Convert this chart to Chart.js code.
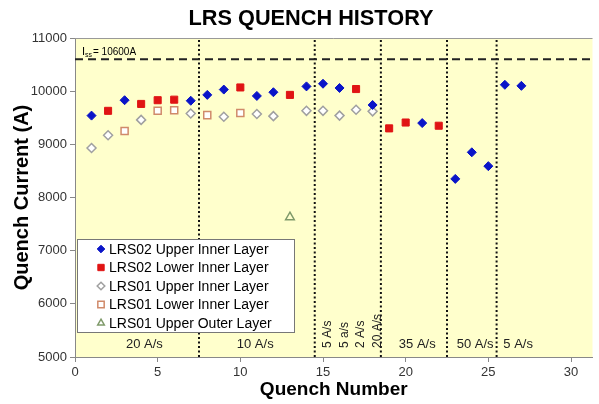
<!DOCTYPE html>
<html>
<head>
    <meta charset="utf-8">
    <title>LRS Quench History</title>
    <script src="https://cdn.jsdelivr.net/npm/chart.js"></script>
    <style>
        body { margin: 0; background: #fff; }
    </style>
</head>
<body>
    <canvas id="myChart" width="599" height="404"></canvas>

    <script>
        // Quench number / quench current (A) for each coil layer
        var lrs02UpperQ = [1, 3, 7, 8, 9, 11, 12, 14, 15, 16, 18, 21, 23, 24, 25, 26, 27];
        var lrs02UpperI = [9540, 9830, 9820, 9930, 10030, 9910, 9980, 10090, 10140, 10060, 9740, 9400, 8350, 8850, 8590, 10120, 10100];

        var lrs02LowerQ = [2, 4, 5, 6, 10, 13, 17, 19, 20, 22];
        var lrs02LowerI = [9630, 9760, 9830, 9840, 10070, 9930, 10040, 9300, 9410, 9350];

        var lrs01UpperQ = [1, 2, 4, 7, 9, 11, 12, 14, 15, 16, 17, 18];
        var lrs01UpperI = [8930, 9170, 9460, 9580, 9520, 9570, 9530, 9630, 9630, 9540, 9650, 9620];

        var lrs01LowerQ = [3, 5, 6, 8, 10];
        var lrs01LowerI = [9250, 9630, 9640, 9550, 9590];

        var lrs01OuterQ = [13];
        var lrs01OuterI = [7630];

        // short sample current and ramp rate segments
        var issCurrent = 10600;
        var rampBoundaries = [7.5, 14.5, 18.5, 22.5, 25.5];
        var rampLabels = ['20 A/s', '10 A/s', '35 A/s', '50 A/s', '5 A/s'];
        var rampLabelQ = [4.2, 10.9, 20.7, 24.2, 26.8];
        var rampVertLabels = ['5 A/s', '5 a/s', '2 A/s', '20 A/s'];
        var rampVertQ = [15.3, 16.3, 17.3, 18.3];

        var xMin = 0, xMax = 31.3, yMin = 5000, yMax = 11000;

        var FONT = 'Liberation Sans, Arial, Helvetica, sans-serif';

        function toPoints(qs, is) {
            return qs.map(function (q, i) { return { x: q, y: is[i] }; });
        }

        var datasets = [
            {
                label: 'LRS02 Upper Inner Layer',
                data: toPoints(lrs02UpperQ, lrs02UpperI),
                pointStyle: 'rectRot', pointRadius: 4.5,
                backgroundColor: '#0a14c8', borderColor: '#0a14c8', borderWidth: 1
            },
            {
                label: 'LRS02 Lower Inner Layer',
                data: toPoints(lrs02LowerQ, lrs02LowerI),
                pointStyle: 'rect', pointRadius: 5,
                backgroundColor: '#e01414', borderColor: '#e01414', borderWidth: 1
            },
            {
                label: 'LRS01 Upper Inner Layer',
                data: toPoints(lrs01UpperQ, lrs01UpperI),
                pointStyle: 'rectRot', pointRadius: 4.5,
                backgroundColor: '#ffffff', borderColor: '#a0a0a0', borderWidth: 1.5
            },
            {
                label: 'LRS01 Lower Inner Layer',
                data: toPoints(lrs01LowerQ, lrs01LowerI),
                pointStyle: 'rect', pointRadius: 5,
                backgroundColor: '#ffffff', borderColor: '#d08a6a', borderWidth: 1.5
            },
            {
                label: 'LRS01 Upper Outer Layer',
                data: toPoints(lrs01OuterQ, lrs01OuterI),
                pointStyle: 'triangle', pointRadius: 5,
                backgroundColor: 'rgba(0,0,0,0)', borderColor: '#7f9a6a', borderWidth: 1.5
            },
            {
                type: 'line',
                label: 'Iss',
                data: [{ x: xMin, y: issCurrent }, { x: xMax, y: issCurrent }],
                borderColor: '#222', borderWidth: 2, borderDash: [8, 5],
                pointRadius: 0, showLine: true, fill: false
            }
        ];

        rampBoundaries.forEach(function (b) {
            datasets.push({
                type: 'line',
                label: 'boundary',
                data: [{ x: b, y: yMin }, { x: b, y: yMax }],
                borderColor: '#111', borderWidth: 2, borderDash: [2, 2.5],
                pointRadius: 0, showLine: true, fill: false
            });
        });

        function drawMarker(ctx, style, x, y, r, fill, stroke, lw) {
            ctx.beginPath();
            if (style === 'rectRot') {
                ctx.moveTo(x, y - r); ctx.lineTo(x + r, y); ctx.lineTo(x, y + r); ctx.lineTo(x - r, y);
            } else if (style === 'rect') {
                var s = r * Math.SQRT1_2;
                ctx.rect(x - s, y - s, 2 * s, 2 * s);
            } else {
                ctx.moveTo(x, y - r);
                ctx.lineTo(x + r * 0.866, y + r * 0.5);
                ctx.lineTo(x - r * 0.866, y + r * 0.5);
            }
            ctx.closePath();
            ctx.fillStyle = fill; ctx.fill();
            ctx.lineWidth = lw; ctx.strokeStyle = stroke; ctx.stroke();
        }

        var decorPlugin = {
            id: 'decor',
            beforeDraw: function (chart) {
                var a = chart.chartArea, ctx = chart.ctx;
                ctx.save();
                ctx.fillStyle = '#ffffcc';
                ctx.fillRect(a.left, a.top, a.right - a.left, a.bottom - a.top);
                ctx.restore();
            },
            afterDraw: function (chart) {
                var a = chart.chartArea, ctx = chart.ctx;
                var xs = chart.scales.x, ys = chart.scales.y;
                ctx.save();

                // top border of plot area
                ctx.strokeStyle = '#999'; ctx.lineWidth = 1;
                ctx.beginPath(); ctx.moveTo(a.left, a.top + 0.5); ctx.lineTo(a.right, a.top + 0.5); ctx.stroke();

                // title
                ctx.fillStyle = '#000';
                ctx.textAlign = 'center'; ctx.textBaseline = 'middle';
                ctx.font = 'bold 22px ' + FONT;
                ctx.fillText('LRS QUENCH HISTORY', 311, 19, 245);

                // Iss label
                var lx = xs.getPixelForValue(xMin) + 7, ly = ys.getPixelForValue(issCurrent) - 4;
                ctx.textAlign = 'left'; ctx.textBaseline = 'alphabetic';
                ctx.font = '11px ' + FONT;
                ctx.fillText('I', lx, ly);
                ctx.font = '7px ' + FONT;
                ctx.fillText('ss', lx + 3, ly + 2);
                ctx.font = '10px ' + FONT;
                ctx.fillText('= 10600A', lx + 11, ly);

                // ramp rate labels
                ctx.fillStyle = '#222';
                ctx.font = '13px ' + FONT;
                ctx.textAlign = 'center'; ctx.textBaseline = 'middle';
                var labY = ys.getPixelForValue(5245);
                rampLabels.forEach(function (t, i) {
                    ctx.fillText(t, xs.getPixelForValue(rampLabelQ[i]), labY);
                });
                ctx.font = '12px ' + FONT;
                ctx.textAlign = 'left';
                var vy = ys.getPixelForValue(5170);
                rampVertLabels.forEach(function (t, i) {
                    ctx.save();
                    ctx.translate(xs.getPixelForValue(rampVertQ[i]), vy);
                    ctx.rotate(-Math.PI / 2);
                    ctx.fillText(t, 0, 0);
                    ctx.restore();
                });

                // legend box inside plot
                var bx = 77, by = 239, bw = 217, bh = 93;
                ctx.fillStyle = '#fff';
                ctx.fillRect(bx, by, bw, bh);
                ctx.strokeStyle = '#777'; ctx.lineWidth = 1;
                ctx.strokeRect(bx + 0.5, by + 0.5, bw, bh);
                ctx.font = '14px ' + FONT;
                ctx.textAlign = 'left'; ctx.textBaseline = 'middle';
                for (var i = 0; i < 5; i++) {
                    var ds = chart.data.datasets[i];
                    var ry = by + 10 + i * 18.5;
                    drawMarker(ctx, ds.pointStyle, 101, ry, ds.pointStyle === 'rect' ? 4.5 : 3.8,
                        ds.backgroundColor, ds.borderColor, ds.borderWidth);
                    ctx.fillStyle = '#000';
                    ctx.fillText(ds.label, 109, ry + 1);
                }
                ctx.restore();
            }
        };

        var ctx = document.getElementById('myChart').getContext('2d');
        var myChart = new Chart(ctx, {
            type: 'scatter',
            data: { datasets: datasets },
            options: {
                responsive: false,
                animation: false,
                layout: { padding: { top: 38, left: 0, right: 0, bottom: 0 } },
                plugins: {
                    legend: { display: false },
                    title: { display: false },
                    tooltip: { enabled: false }
                },
                scales: {
                    x: {
                        type: 'linear', min: xMin, max: xMax,
                        afterFit: function (s) { s.height = 47; s.paddingRight = 0; },
                        ticks: { stepSize: 5, includeBounds: false, color: '#333', font: { size: 13, family: FONT }, padding: 3 },
                        grid: { drawOnChartArea: false, tickLength: 5, color: '#888' },
                        border: { color: '#888', width: 1 },
                        title: { display: true, text: 'Quench Number', color: '#000', font: { size: 19, weight: 'bold', family: FONT }, padding: { top: 0, bottom: 3 } }
                    },
                    y: {
                        min: yMin, max: yMax,
                        afterFit: function (s) { s.width = 75; },
                        ticks: { stepSize: 1000, color: '#333', font: { size: 13, family: FONT }, padding: 3,
                            callback: function (v) { return String(v); } },
                        grid: { drawOnChartArea: false, tickLength: 5, color: '#888' },
                        border: { color: '#888', width: 1 },
                        title: { display: true, text: 'Quench Current (A)', color: '#000', font: { size: 20, weight: 'bold', family: FONT }, padding: { top: 10, bottom: 0 } }
                    }
                }
            },
            plugins: [decorPlugin]
        });
    </script>
</body>
</html>
